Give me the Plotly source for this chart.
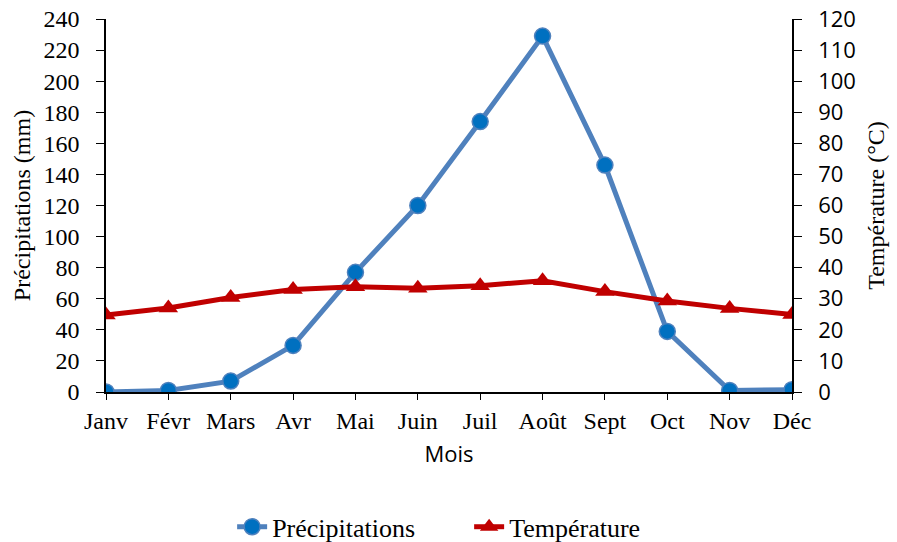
import plotly.graph_objects as go

mois = ["Janv", "Févr", "Mars", "Avr", "Mai", "Juin", "Juil", "Août", "Sept", "Oct", "Nov", "Déc"]
precipitations = [0, 1, 7, 30, 77, 120, 174, 229, 146, 39, 1, 1.5]
temperature = [24.8, 27.0, 30.4, 33.0, 33.9, 33.4, 34.2, 35.8, 32.3, 29.3, 26.9, 24.9]
left_ticks = list(range(0, 241, 20))
right_ticks = list(range(0, 121, 10))

fig = go.Figure()
fig.add_trace(go.Scatter(
    x=mois, y=precipitations, name="Précipitations", mode="lines+markers",
    line=dict(color="#4F81BD", width=5),
    marker=dict(symbol="circle", size=16, color="#0070C0", line=dict(color="#4F81BD", width=1.5)),
    yaxis="y"))
fig.add_trace(go.Scatter(
    x=mois, y=temperature, name="Température", mode="lines+markers",
    line=dict(color="#C00000", width=5),
    marker=dict(symbol="triangle-up", size=17, color="#C00000"),
    yaxis="y2"))

serif = "Liberation Serif"
sans = "Open Sans"

fig.update_layout(
    width=897, height=542,
    margin=dict(l=106, r=105, t=19, b=150, autoexpand=False),
    paper_bgcolor="white", plot_bgcolor="white",
    font=dict(family=serif, size=24, color="black"),
    showlegend=True,
    legend=dict(orientation="h", x=0.523, xanchor="center", xref="container",
                y=0.028, yanchor="middle", yref="container",
                entrywidth=192, entrywidthmode="pixels",
                font=dict(family=serif, size=26, color="black")),
    xaxis=dict(
        type="category", range=[0, 11], showgrid=False, automargin=False,
        showline=True, linecolor="black", linewidth=1.5,
        ticks="outside", ticklen=6, tickcolor="black",
        tickfont=dict(family=serif, size=24, color="black"),
        title=dict(text="Mois", font=dict(family=sans, size=22, color="black"), standoff=14)),
    yaxis=dict(
        range=[0, 240], tickvals=left_ticks, showgrid=False, zeroline=False, automargin=False,
        showline=True, linecolor="black", linewidth=1.5,
        ticks="outside", ticklen=8, tickcolor="black", ticklabelstandoff=12,
        tickfont=dict(family=serif, size=24, color="black"),
        title=dict(text="Précipitations (mm)", font=dict(family=serif, size=24, color="black"), standoff=6)),
    yaxis2=dict(
        range=[0, 120], tickvals=right_ticks, overlaying="y", side="right",
        showgrid=False, zeroline=False, automargin=False,
        showline=True, linecolor="black", linewidth=1.5,
        ticks="outside", ticklen=8, tickcolor="black", ticklabelstandoff=12,
        tickfont=dict(family=sans, size=22, color="black"),
        title=dict(text="Température (°C)", font=dict(family=serif, size=24, color="black"), standoff=12)),
)

fig.write_html("out.html")
